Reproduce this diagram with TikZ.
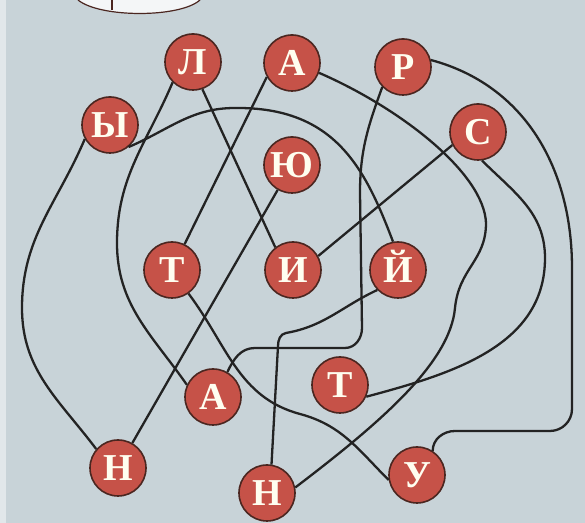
\documentclass[tikz,border=0pt]{standalone}
\usepackage{fontspec}
\setmainfont{Liberation Serif}
\definecolor{bgblue}{RGB}{200,211,216}
\definecolor{ballred}{RGB}{198,82,72}
\definecolor{ballrim}{RGB}{75,38,32}
\definecolor{inkline}{RGB}{35,35,35}
\begin{document}
\begin{tikzpicture}[x=0.5pt, y=0.5pt,
    ball/.style={circle, draw=ballrim, line width=0.8pt, fill=ballred, minimum size=28pt, inner sep=0pt,
        text=white!94!yellow, text height=12.4pt, text depth=0pt, font=\fontsize{19}{19}\selectfont\bfseries},
    wire/.style={draw=inkline, line width=1.15pt}]
    \useasboundingbox (0,0) rectangle (585,523);
    \fill[bgblue] (0,0) rectangle (585,523);
    \fill[white!45!bgblue] (0,0) rectangle (6,523);
    % piece of the picture above
    \draw[ballrim, line width=0.6pt, fill=white!80!bgblue] (78,523) .. controls (100,505) and (180,505) .. (200,523);
    \draw[ballrim, line width=0.6pt] (112,523) -- (112,513);
    % letters
    \node[ball] (l)  at (193,461) {Л};
    \node[ball] (at) at (292,460) {А};
    \node[ball] (rr) at (403,456) {Р};
    \node[ball] (yy) at (110,398) {Ы};
    \node[ball] (cc) at (478,391) {С};
    \node[ball] (yu) at (292,358) {Ю};
    \node[ball] (tl) at (172,253) {Т};
    \node[ball] (ii) at (293,253) {И};
    \node[ball] (yj) at (398,253) {Й};
    \node[ball] (ab) at (213,126) {А};
    \node[ball] (tr) at (340,138) {Т};
    \node[ball] (nl) at (118,55) {Н};
    \node[ball] (nb) at (267,30) {Н};
    \node[ball] (uu) at (417,48) {У};
    % the threads, in reading order
    \draw[wire] (yu) -- (nl);
    \draw[wire] (nl.139) to[out=127,in=-90] (22,215) to[out=90,in=247] (yy.209);
    \draw[wire] (yy.-50) to[out=23,in=180] (235,415) .. controls (335,416) and (365,355) .. (yj.100);
    \draw[wire] (yj.224) to[out=205,in=10] (286,190) to[out=190,in=90] (278,177) -- (nb.81);
    \draw[wire] (nb.11) .. controls (380,100) and (450,160) .. (455,215)
        .. controls (459,255) and (486,262) .. (486,300)
        .. controls (484,350) and (400,415) .. (at.-20);
    \draw[wire] (at.209) -- (tl.64);
    \draw[wire] (tl.-55) to[out=-53,in=165] (300,109) to[out=-15,in=135] (uu.190);
    \draw[wire] (uu.57) to[out=90,in=180] (455,92) -- (550,92) to[out=0,in=-90] (572,114)
        -- (572,255) to[out=90,in=-15] (rr.14);
    \draw[wire] (rr.224) to[out=250,in=90] (360,330) -- (362,195) to[out=-90,in=0] (345,175)
        -- (255,175) to[out=180,in=65] (ab.60);
    \draw[wire] (ab.155) to[out=125,in=-90] (117,280) to[out=90,in=247] (l.225);
    \draw[wire] (l.-71) -- (ii.128);
    \draw[wire] (ii.29) -- (cc.207);
    \draw[wire] (cc.-82) to[out=-45,in=90] (545,265) to[out=-90,in=15] (tr.-24);
\end{tikzpicture}
\end{document}
